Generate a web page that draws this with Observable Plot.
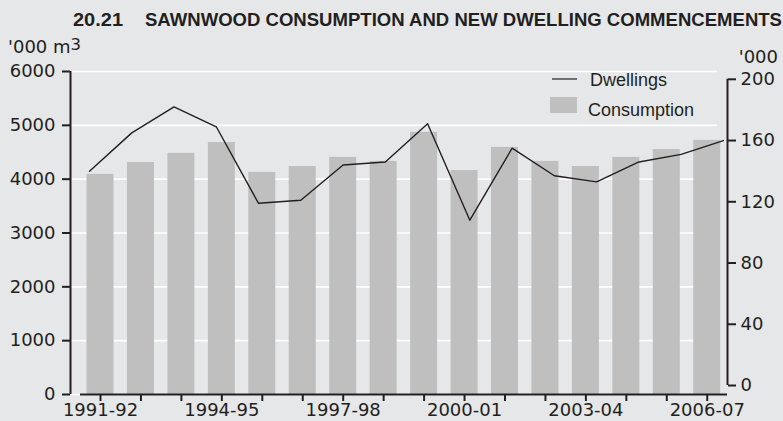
<!DOCTYPE html>
<html><head><meta charset="utf-8">
<script src="https://cdn.jsdelivr.net/npm/d3@7"></script>
<script src="https://cdn.jsdelivr.net/npm/@observablehq/plot@0.6"></script>
<style>
html,body{margin:0;padding:0;background:#e6e7e8;width:783px;height:421px;overflow:hidden;}
#title{display:block;}
#chart svg{display:block;}
</style></head><body>
<svg id="title" width="783" height="30" xmlns="http://www.w3.org/2000/svg">
  <text x="73" y="26" font-family="Liberation Sans, Arial, sans-serif" font-weight="bold" font-size="18.5" fill="#231f20" textLength="50" lengthAdjust="spacingAndGlyphs">20.21</text>
  <text x="145" y="26" font-family="Liberation Sans, Arial, sans-serif" font-weight="bold" font-size="18.5" fill="#231f20" textLength="637" lengthAdjust="spacingAndGlyphs">SAWNWOOD CONSUMPTION AND NEW DWELLING COMMENCEMENTS</text>
</svg>
<div id="chart"></div>
<script>
// ---- data ----
const periods = ["1991-92","1992-93","1993-94","1994-95","1995-96","1996-97","1997-98","1998-99","1999-00","2000-01","2001-02","2002-03","2003-04","2004-05","2005-06","2006-07"];
const consumption = [4090,4310,4480,4680,4125,4235,4405,4330,4870,4160,4590,4330,4235,4405,4550,4720];
const dwellings = [140,165,182,169,119,121,144,146,171,108,155,137,133,146,151,160];
const leftTicks = [0,1000,2000,3000,4000,5000,6000];
const rightTicks = [0,40,80,120,160,200];
const labelEvery = 3;

// ---- secondary axes mappings ----
const secY = d => 167 + 28.44 * d;           // dwellings ('000) -> left-axis units
const secYinv = v => Math.round((v - 167) / 28.44);
const secX = i => -0.272 + 1.0448 * i;        // secondary category axis for the line
const xMin = -0.7417, xMax = 15.501;

const data = periods.map((p, i) => ({i, period: p, consumption: consumption[i], dwellings: dwellings[i]}));
const ink = "#231f20";

const chart = Plot.plot({
  width: 783,
  height: 391,
  marginLeft: 70,
  marginRight: 56,
  marginTop: 41,
  marginBottom: 27,
  style: {background: "transparent", fontFamily: "DejaVu Sans, sans-serif", fontSize: "18px", color: ink, overflow: "visible"},
  x: {type: "linear", domain: [xMin, xMax]},
  y: {domain: [0, 6000]},
  marks: [
    Plot.ruleY(leftTicks, {x1: xMin, x2: 15.25, stroke: "white", strokeWidth: 1.6}),
    Plot.rectY(data, {x1: d => d.i - 0.334, x2: d => d.i + 0.334, y1: 0, y2: "consumption", fill: "#bfbfbf"}),
    Plot.line(data, {x: d => secX(d.i), y: d => secY(d.dwellings), stroke: ink, strokeWidth: 1.4}),
    Plot.ruleX([xMin], {y1: 0, y2: 6000, stroke: ink, strokeWidth: 2}),
    Plot.ruleY([0], {x1: -0.494, x2: xMax, stroke: ink, strokeWidth: 2}),
    Plot.ruleX([xMax], {y1: secY(0), y2: secY(200), stroke: ink, strokeWidth: 2}),
    Plot.axisY(leftTicks, {anchor: "left", tickSize: 8, tickPadding: 7, strokeWidth: 2, label: null, tickFormat: d => String(d)}),
    Plot.axisY(rightTicks.map(secY), {anchor: "right", tickSize: 8, tickPadding: 5, strokeWidth: 2, label: null, tickFormat: v => String(secYinv(v))}),
    Plot.axisX(data.map(d => d.i), {anchor: "bottom", tickSize: 7, tickPadding: 2, strokeWidth: 2, label: null, fontSize: 18,
      tickFormat: i => (i % labelEvery === 0 ? periods[i] : "")})
  ]
});
document.getElementById("chart").appendChild(chart);

// ---- units & legend (text) ----
const svg = d3.select(chart);
const t1 = svg.append("text").attr("x", 8).attr("y", 23).attr("fill", ink).attr("text-anchor", "start")
  .style("font-family", "DejaVu Sans, sans-serif").style("font-size", "18px");
t1.append("tspan").text("'000 m");
t1.append("tspan").attr("dy", -3).style("font-size", "16.5px").text("3");
svg.append("text").attr("x", 778).attr("y", 33).attr("text-anchor", "end").attr("fill", ink)
  .style("font-family", "DejaVu Sans, sans-serif").style("font-size", "18px").text("'000");

const lg = svg.append("g").attr("text-anchor", "start").style("font-family", "Liberation Sans, Arial, sans-serif").style("font-size", "18px").attr("fill", ink);
lg.append("line").attr("x1", 552).attr("x2", 577).attr("y1", 49).attr("y2", 49).attr("stroke", ink).attr("stroke-width", 1.2);
lg.append("text").attr("x", 590).attr("y", 56).text("Dwellings");
lg.append("rect").attr("x", 550).attr("y", 67).attr("width", 27).attr("height", 16).attr("fill", "#bfbfbf");
lg.append("text").attr("x", 588).attr("y", 85.5).text("Consumption");
</script>
</body></html>
